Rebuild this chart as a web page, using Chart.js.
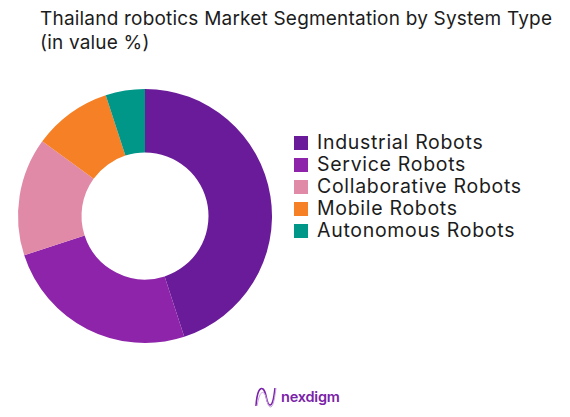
<!DOCTYPE html>
<html>
<head>
<meta charset="utf-8">
<script src="https://cdn.jsdelivr.net/npm/chart.js@4"></script>
<style>
html, body { margin: 0; padding: 0; background: #fff; }
body { width: 570px; height: 417px; position: relative; overflow: hidden; font-family: Inter, sans-serif; color: #1c1c1c; }
#title { position: absolute; left: 40px; top: 7px; font-size: 19px; line-height: 24px; white-space: nowrap; letter-spacing: 0.2px; }
#wrap { position: absolute; left: 13px; top: 84px; width: 264px; height: 264px; }
#legend { position: absolute; left: 294px; top: 131px; font-size: 19.5px; line-height: 22px; white-space: nowrap; letter-spacing: 0.7px; }
#legend div { height: 22px; }
#legend i { display: inline-block; width: 14px; height: 14px; margin-right: 9px; vertical-align: -1px; }
#logo { position: absolute; left: 254px; top: 385px; }
#brand { position: absolute; left: 281px; top: 387px; font-size: 14.5px; line-height: 20px; font-weight: 600; color: #7a22a8; letter-spacing: -0.2px; }
</style>
</head>
<body>
<div id="title">Thailand robotics Market Segmentation by System Type<br>(in value %)</div>
<div id="wrap"><canvas id="chart" width="264" height="264"></canvas></div>
<div id="legend"></div>
<svg id="logo" width="24" height="24" viewBox="0 0 24 24" fill="none">
  <path d="M2 21 C3 6 6 2 9 4 C13 7 12 20 16 20 C19 20 20 12 21 3" stroke="#7a22a8" stroke-width="1.6"/>
  <path d="M3 21 C5 10 7 6 10 8 C13 11 13 23 17 22 C20 20 21 10 22 3" stroke="#c9a3e0" stroke-width="1"/>
</svg>
<div id="brand">nexdigm</div>
<script>
const categories = ['Industrial Robots', 'Service Robots', 'Collaborative Robots', 'Mobile Robots', 'Autonomous Robots']
const shares = [45, 25, 15, 10, 5]
const colors = ['#6a1b9a', '#8e24aa', '#e08aa8', '#f58025', '#009688']

const legend = document.querySelector('#legend')
categories.forEach((name, i) => {
    const row = document.createElement('div')
    row.innerHTML = `<i style="background:${colors[i]}"></i>${name}`
    legend.appendChild(row)
})

new Chart(document.querySelector('#chart'), {
    type: 'doughnut',
    data: {
        labels: categories,
        datasets: [{
            data: shares,
            backgroundColor: colors,
            borderWidth: 0
        }]
    },
    options: {
        animation: false,
        responsive: false,
        cutout: '50%',
        layout: { padding: 5 },
        plugins: {
            legend: { display: false },
            title: { display: false },
            tooltip: { enabled: false }
        }
    }
})
</script>
</body>
</html>
